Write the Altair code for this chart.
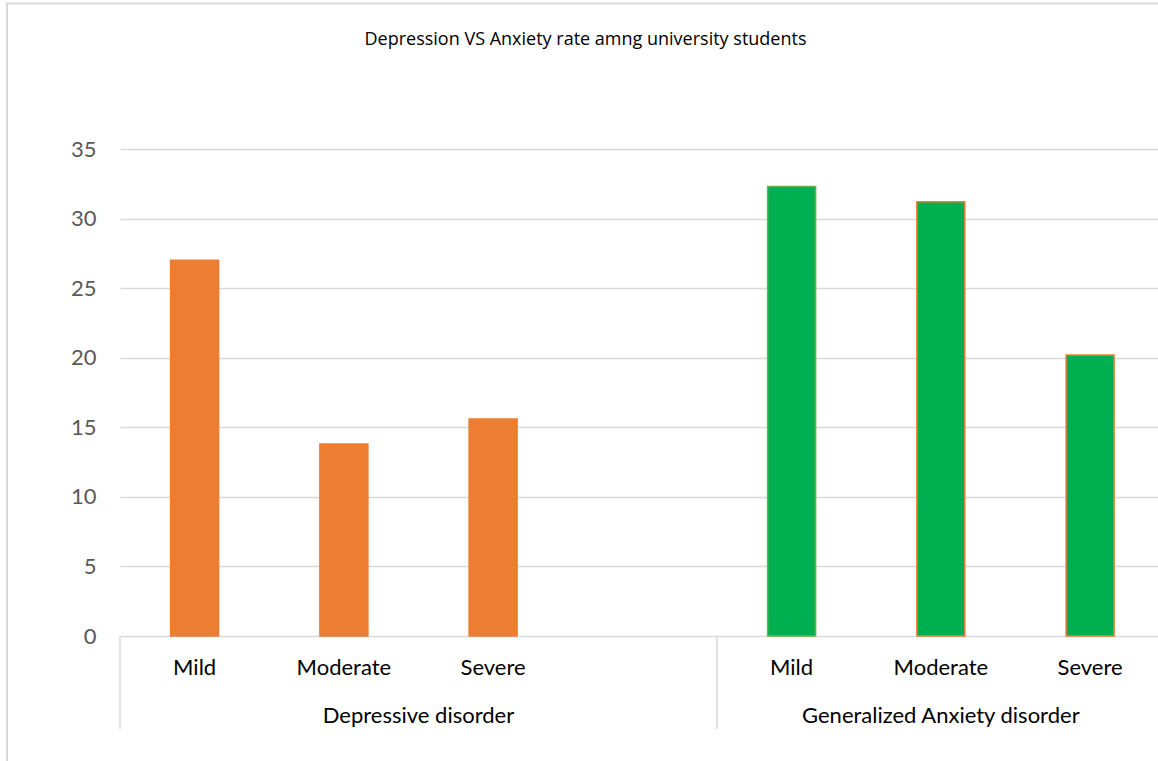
import altair as alt
import pandas as pd

# ---- data ----
groups = ["Depressive disorder"] * 4 + ["Generalized Anxiety disorder"] * 3
levels = ["Mild", "Moderate", "Severe", "", "Mild", "Moderate", "Severe"]
values = [27.0, 13.8, 15.6, None, 32.3, 31.2, 20.2]
y_ticks = [0, 5, 10, 15, 20, 25, 30, 35]
chart_title = ["Depression VS Anxiety rate amng university students"]

df = pd.DataFrame({
    "group": groups,
    "level": levels,
    "value": values,
    "slot": list(range(len(levels))),
})

DEP, ANX = groups[0], groups[-1]
GRID = "#D9D9D9"
LABEL_FONT = "Lato"

x_scale = alt.Scale(domain=[0, 6.955], nice=False, zero=False, padding=0)
base = alt.Chart(df)

bars = (
    base.transform_filter("isValid(datum.value)")
    .transform_calculate(
        pos="datum.slot + 0.5",
        edge=f"datum.group == '{DEP}' ? '#ED7D31' : (datum.level == 'Mild' ? '#70AD47' : '#ED7D31')",
    )
    .mark_bar(width=48, strokeWidth=1.5)
    .encode(
        x=alt.X("pos:Q", scale=x_scale,
                axis=alt.Axis(title=None, labels=False, ticks=False, grid=False,
                              domain=True, domainColor=GRID, domainWidth=1.5)),
        y=alt.Y("value:Q", scale=alt.Scale(domain=[0, 35], nice=False),
                axis=alt.Axis(values=y_ticks, title=None, domain=False, ticks=False,
                              tickSize=0, labelPadding=24, labelFont=LABEL_FONT,
                              labelFontSize=22, labelColor="#595959",
                              gridColor=GRID, gridWidth=1.5)),
        color=alt.Color("group:N", scale=alt.Scale(domain=[DEP, ANX],
                                                   range=["#ED7D31", "#00B050"]),
                        legend=None),
        stroke=alt.Stroke("edge:N", scale=None),
    )
)

level_labels = (
    base.transform_filter("datum.level != ''")
    .transform_calculate(pos="datum.slot + 0.5")
    .mark_text(font=LABEL_FONT, fontSize=22, color="#000000", baseline="middle", align="center")
    .encode(x=alt.X("pos:Q", scale=x_scale, axis=None),
            y=alt.value(519), text="level:N")
)

group_labels = (
    base.transform_aggregate(lo="min(slot)", hi="max(slot)", groupby=["group"])
    .transform_calculate(pos="(datum.lo + datum.hi + 1) / 2")
    .mark_text(font=LABEL_FONT, fontSize=22, color="#000000", baseline="middle", align="center")
    .encode(x=alt.X("pos:Q", scale=x_scale, axis=None),
            y=alt.value(567), text="group:N")
)

dividers = (
    base.transform_aggregate(lo="min(slot)", groupby=["group"])
    .mark_rule(color=GRID, strokeWidth=1.5)
    .encode(x=alt.X("lo:Q", scale=x_scale, axis=None),
            y=alt.value(487), y2=alt.value(580))
)

frame_df = pd.DataFrame({"k": [0]})
frame_left = alt.Chart(frame_df).mark_rule(color=GRID, strokeWidth=2).encode(
    x=alt.value(-113), y=alt.value(-146), y2=alt.value(612))
frame_top = alt.Chart(frame_df).mark_rule(color=GRID, strokeWidth=2).encode(
    x=alt.value(-114), x2=alt.value(1040), y=alt.value(-145.5))

title_df = pd.DataFrame({"t": chart_title})
title_text = alt.Chart(title_df).mark_text(
    font="Open Sans", fontSize=18, color="#000000", baseline="middle", align="center"
).encode(x=alt.value(465.5), y=alt.value(-109), text="t:N")

chart = (
    alt.layer(frame_left, frame_top, bars, dividers, level_labels, group_labels, title_text)
    .properties(
        width=1038,
        height=487,
        autosize=alt.AutoSizeParams(type="none"),
        padding={"left": 120, "top": 149, "right": 0, "bottom": 125},
    )
    .configure_view(stroke=None)
)

chart.save("out.html", embed_options={"renderer": "svg", "actions": False})
